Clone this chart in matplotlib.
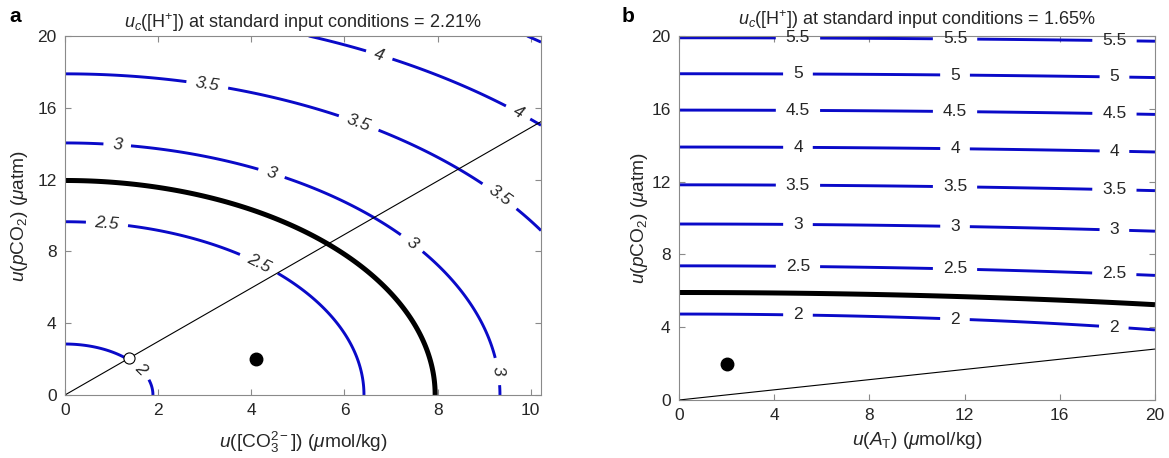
import numpy as np
import matplotlib
matplotlib.use('Agg')
import matplotlib.pyplot as plt

plt.rcParams['font.family'] = ['Liberation Sans', 'DejaVu Sans']
plt.rcParams['mathtext.fontset'] = 'custom'
plt.rcParams['mathtext.rm'] = 'Liberation Sans'
plt.rcParams['mathtext.it'] = 'Liberation Sans:italic'
plt.rcParams['mathtext.bf'] = 'Liberation Sans:bold'

# ---- panel a: u([CO3 2-]) vs u(pCO2) ----
levels_a = [2, 2.5, 3, 3.5, 4, 4.5]
bold_level_a = 2.75
u0_a, kx_a, ky_a = 1.946, 0.2445, 0.1626
std_a = (4.1, 2.0)
diag_slope_a = 1.49
open_pt_a = (1.38, 2.05)
xmax_a = 10.22
label_pos_a = [(6.76, 19.05), (9.72, 15.7),
               (3.05, 17.2), (6.29, 15.04), (9.31, 11.0),
               (1.12, 13.9), (4.44, 12.4), (7.45, 8.47), (9.27, 1.3),
               (0.9, 9.5), (4.15, 7.24),
               (1.6, 1.4)]

# ---- panel b: u(A_T) vs u(pCO2) ----
levels_b = [2, 2.5, 3, 3.5, 4, 4.5, 5, 5.5]
bold_level_b = 2.21
u0_b, kx_b, ky_b = 1.560, 0.0362, 0.265
std_b = (2.0, 2.0)
diag_slope_b = 0.14
label_x_b = [5.0, 11.6, 18.3]
label_y_b = [4.6, 7.3, 9.6, 11.85, 13.85, 15.95, 17.9, 19.8]

title_a = r'$u_c$([H$^{+}$]) at standard input conditions = 2.21%'
title_b = r'$u_c$([H$^{+}$]) at standard input conditions = 1.65%'

blue = '#0a0ac8'
spine_c = '#8a8a8a'
text_c = '#262626'


def style_axes(ax):
    for s in ax.spines.values():
        s.set_color(spine_c)
        s.set_linewidth(0.8)
    ax.tick_params(direction='in', top=True, right=True, length=4,
                   color=spine_c, labelcolor=text_c, labelsize=12.5, pad=6)


def field(x, y, u0, kx, ky):
    X, Y = np.meshgrid(x, y)
    return X, Y, np.sqrt(u0**2 + (kx * X)**2 + (ky * Y)**2)


fig = plt.figure(figsize=(11.69, 4.58), dpi=100)
ax1 = fig.add_axes([0.0556, 0.1376, 0.4072, 0.7838])
ax2 = fig.add_axes([0.5808, 0.1266, 0.4072, 0.7948])

# panel a
X, Y, U = field(np.linspace(0, xmax_a, 400), np.linspace(0, 20, 400), u0_a, kx_a, ky_a)
cs = ax1.contour(X, Y, U, levels=levels_a, colors=blue, linewidths=2.1)
ax1.clabel(cs, fmt='%g', fontsize=12.5, inline=True, inline_spacing=9,
           manual=label_pos_a)
for t in cs.labelTexts:
    t.set_color(text_c)
    t.set_fontstyle('italic')
    t.set_clip_on(False)
ax1.contour(X, Y, U, levels=[bold_level_a], colors='k', linewidths=3.6)
xd = np.array([0, xmax_a])
ax1.plot(xd, diag_slope_a * xd, color='k', lw=0.8)
ax1.plot(*open_pt_a, 'o', mfc='white', mec='k', ms=8, mew=0.8)
ax1.plot(*std_a, 'o', color='k', ms=9)
ax1.set_xlim(0, xmax_a)
ax1.set_ylim(0, 20)
ax1.set_xticks([0, 2, 4, 6, 8, 10])
ax1.set_yticks([0, 4, 8, 12, 16, 20])
ax1.set_xlabel(r'$u$([CO$_3^{2-}$]) ($\mu$mol/kg)', fontsize=13.8, color=text_c, labelpad=8)
ax1.set_ylabel(r'$u$($p$CO$_2$) ($\mu$atm)', fontsize=13.8, color=text_c, labelpad=5)
ax1.set_title(title_a, fontsize=13, color=text_c, pad=6)
style_axes(ax1)

# panel b
X, Y, U = field(np.linspace(0, 20, 400), np.linspace(0, 20, 400), u0_b, kx_b, ky_b)
cs = ax2.contour(X, Y, U, levels=levels_b, colors=blue, linewidths=2.1)
pos_b = [(lx, ly) for ly in label_y_b for lx in label_x_b]
ax2.clabel(cs, fmt='%g', fontsize=12.5, inline=True, inline_spacing=10,
           manual=pos_b)
for t in cs.labelTexts:
    t.set_color(text_c)
    t.set_rotation(0)
    t.set_clip_on(False)
ax2.contour(X, Y, U, levels=[bold_level_b], colors='k', linewidths=3.6)
xd = np.array([0, 20])
ax2.plot(xd, diag_slope_b * xd, color='k', lw=0.8)
ax2.plot(*std_b, 'o', color='k', ms=9)
ax2.set_xlim(0, 20)
ax2.set_ylim(0, 20)
ax2.set_xticks([0, 4, 8, 12, 16, 20])
ax2.set_yticks([0, 4, 8, 12, 16, 20])
ax2.set_xlabel(r'$u$($A_{\mathrm{T}}$) ($\mu$mol/kg)', fontsize=13.8, color=text_c, labelpad=5)
ax2.set_ylabel(r'$u$($p$CO$_2$) ($\mu$atm)', fontsize=13.8, color=text_c, labelpad=1)
ax2.set_title(title_b, fontsize=13, color=text_c, pad=8)
style_axes(ax2)

fig.text(0.008, 0.952, 'a', fontsize=15, fontweight='bold', color='k')
fig.text(0.532, 0.952, 'b', fontsize=15, fontweight='bold', color='k')

fig.savefig('out.png', dpi=100)
